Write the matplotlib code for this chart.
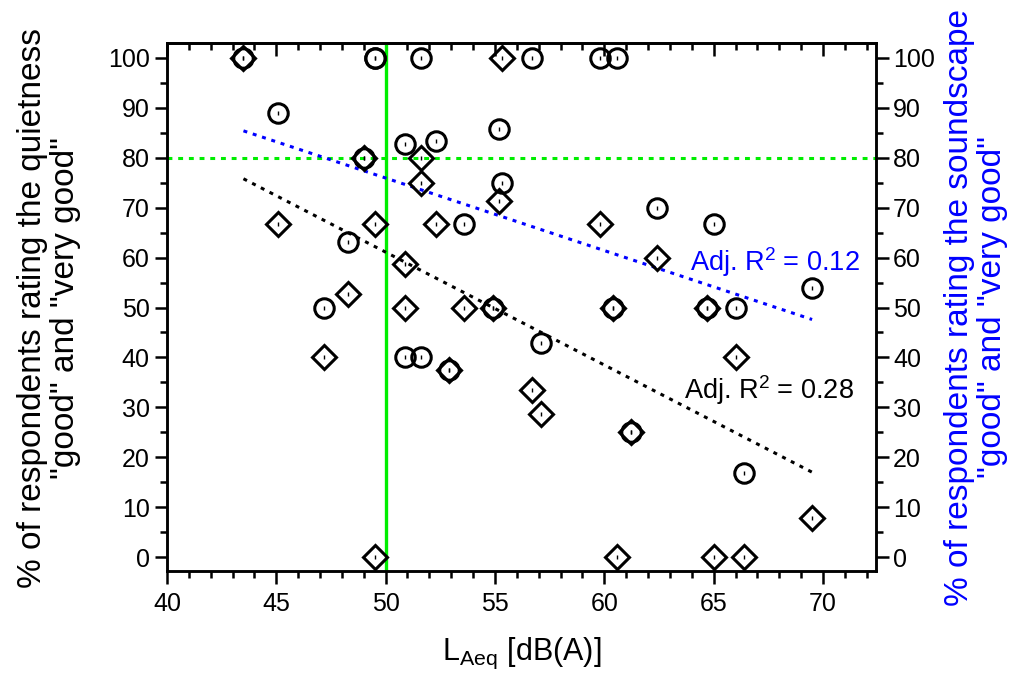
import matplotlib
matplotlib.use("Agg")
import matplotlib.pyplot as plt
from matplotlib.ticker import MultipleLocator

plt.rcParams['font.family'] = ['Liberation Sans', 'DejaVu Sans']
plt.rcParams['mathtext.default'] = 'regular'

# LAeq per site [dB(A)]
laeq = [43.5, 45.1, 47.2, 48.3, 49.0, 49.5, 49.5, 50.9, 50.9, 51.6, 51.6,
        52.3, 52.9, 53.6, 54.9, 55.2, 55.3, 56.7, 57.1, 59.8, 60.4, 60.6,
        61.2, 62.4, 64.7, 65.0, 66.0, 66.4, 69.5]
# % rating soundscape good / very good (circles)
soundscape = [100, 88.9, 50, 63.2, 80, 100, 100, 82.8, 40, 100, 40,
              83.4, 37.5, 66.7, 50, 85.8, 75, 100, 42.8, 100, 50, 100,
              25, 70, 50, 66.7, 50, 16.9, 54]
# % rating quietness good / very good (diamonds)
quietness = [100, 66.7, 40, 52.8, 80, 66.7, 0, 58.7, 50, 80, 75,
             66.7, 37.5, 50, 50, 71.4, 100, 33.5, 28.7, 66.7, 50, 0,
             25, 60, 50, 0, 40, 0, 7.9]

# linear fits (end points)
fit_x = [43.5, 69.5]
fit_quiet = [75.8, 17.0]
fit_sound = [85.4, 47.6]

limit_laeq = 50
limit_pct = 80

fig = plt.figure(figsize=(10.24, 6.88), dpi=100)
ax = fig.add_axes([0.163, 0.17, 0.692, 0.7675])

ax.axvline(limit_laeq, color='#00ee00', lw=2.4, zorder=1)
ax.axhline(limit_pct, color='#00ee00', lw=2.2, ls=(0, (1.6, 1.9)), zorder=1)

ax.plot(fit_x, fit_quiet, color='black', lw=2.2, ls=(0, (1.3, 1.9)), zorder=2)
ax.plot(fit_x, fit_sound, color='#0000ff', lw=2.2, ls=(0, (1.3, 1.9)), zorder=2)

ax.plot(laeq, soundscape, ls='none', marker='o', ms=14, mfc='none',
        mec='black', mew=2.2, zorder=3)
ax.plot(laeq, quietness, ls='none', marker='D', ms=12.5, mfc='none',
        mec='black', mew=2.2, zorder=3)
ax.plot(laeq, soundscape, ls='none', marker='|', ms=2.5, mew=1, color='black', zorder=4)
ax.plot(laeq, quietness, ls='none', marker='|', ms=2.5, mew=1, color='black', zorder=4)

ax.set_xlim(40, 72.4)
ax.set_ylim(-2.8, 103)
ax.xaxis.set_major_locator(MultipleLocator(5))
ax.xaxis.set_minor_locator(MultipleLocator(1))
ax.yaxis.set_major_locator(MultipleLocator(10))
ax.yaxis.set_minor_locator(MultipleLocator(5))
ax.tick_params(which='major', direction='out', length=9, width=1.8, labelsize=18)
ax.tick_params(which='minor', direction='out', length=5, width=1.8)
ax.tick_params(axis='x', pad=6)
for s in ax.spines.values():
    s.set_linewidth(1.8)

top = ax.secondary_xaxis('top')
top.xaxis.set_major_locator(MultipleLocator(5))
top.xaxis.set_minor_locator(MultipleLocator(1))
top.tick_params(which='major', direction='in', length=9, width=1.8, labeltop=False)
top.tick_params(which='minor', direction='in', length=5, width=1.8)
top.spines['top'].set_linewidth(1.8)

ax2 = ax.twinx()
ax2.set_ylim(ax.get_ylim())
ax2.yaxis.set_major_locator(MultipleLocator(10))
ax2.yaxis.set_minor_locator(MultipleLocator(5))
ax2.tick_params(which='major', direction='out', length=9, width=1.8, labelsize=18)
ax2.tick_params(which='minor', direction='out', length=5, width=1.8)
for s in ax2.spines.values():
    s.set_linewidth(1.8)

ax.set_xlabel('L$_{Aeq}$ [dB(A)]', fontsize=22, labelpad=14)
fig.text(49 / 1024, 1 - 308 / 688,
         '% of respondents rating the quietness\n"good" and "very good"',
         fontsize=24, rotation=90, ha='center', va='center',
         multialignment='center', linespacing=1.12)
fig.text(976 / 1024, 1 - 307 / 688,
         '% of respondents rating the soundscape\n"good" and "very good"',
         fontsize=24, color='#0000ff', rotation=90, ha='center', va='center',
         multialignment='center', linespacing=1.12)

ax.text(63.66, 33.5, 'Adj. R$^2$ = 0.28', fontsize=19.5, color='black', va='center')
ax.text(63.94, 59.1, 'Adj. R$^2$ = 0.12', fontsize=19.5, color='#0000ff', va='center')

fig.savefig('out.png', dpi=100)
